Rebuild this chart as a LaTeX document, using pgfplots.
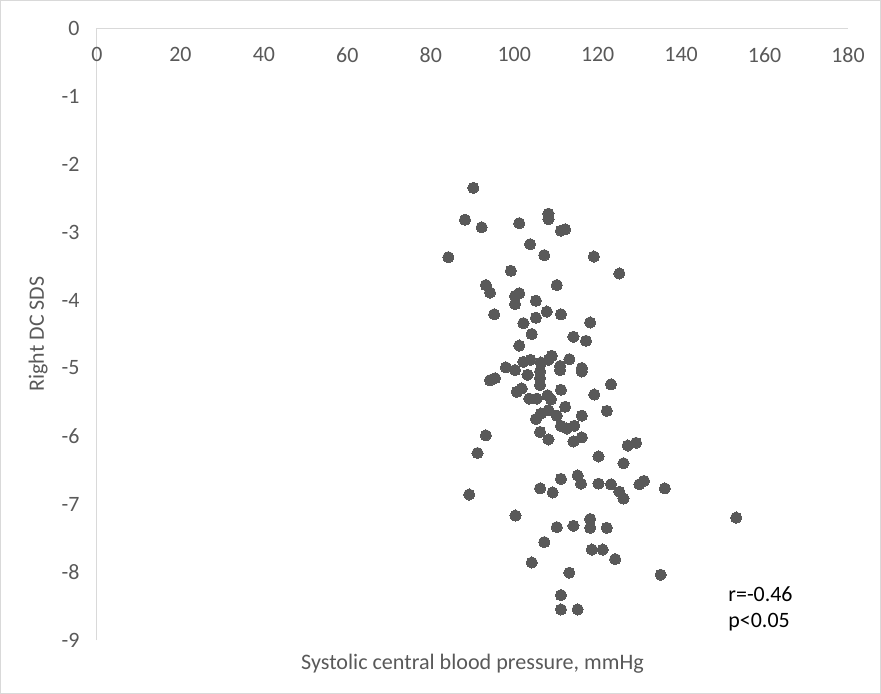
\documentclass[border=0pt]{standalone}
\usepackage{fontspec}
\setmainfont{Carlito}
\usepackage{pgfplots}
\pgfplotsset{compat=1.18}
\definecolor{pt}{HTML}{595959}
\definecolor{ax}{HTML}{D9D9D9}
\definecolor{tx}{HTML}{595959}
\begin{document}
\begin{tikzpicture}
\path[use as bounding box] (-97bp,-54bp) rectangle (784bp,640bp);
\draw[ax, line width=1bp] (-96.5bp,-53.5bp) rectangle (783.5bp,639.5bp);
\begin{axis}[at={(0,0)}, anchor=south west, scale only axis,
  width=751bp, height=612bp,
  xmin=0, xmax=180, ymin=-9, ymax=0,
  axis lines=middle, axis line style={ax, line width=1bp, -},
  xtick={0,20,...,180}, ytick={-9,-8,...,0},
  major tick length=0pt,
  hide obscured x ticks=false, hide obscured y ticks=false,
  tick label style={font=\fontsize{22}{26}\selectfont, text=tx},
  /pgf/number format/assume math mode=true,
  xticklabel style={anchor=north, yshift=-16bp},
  yticklabel style={anchor=east, xshift=-14bp},
  clip=false,
]
\addplot[only marks, color=pt, mark=*, mark size=5.6bp, mark options={fill=pt, draw=pt, line width=0pt}] coordinates {
(84.2,-3.37) (88.2,-2.82) (90.2,-2.35) (92.2,-2.93) (101.2,-2.87)
(108.2,-2.73) (108.2,-2.81) (111.2,-2.98) (112.2,-2.96) (103.8,-3.18)
(107.2,-3.34) (119.1,-3.36) (125.2,-3.61) (99.2,-3.57) (93.2,-3.78)
(94.2,-3.89) (110.2,-3.78) (101.2,-3.90) (100.2,-3.94) (100.2,-4.06)
(105.2,-4.01) (95.2,-4.21) (107.8,-4.17) (111.2,-4.21) (102.2,-4.34)
(105.2,-4.26) (118.2,-4.33) (104.2,-4.50) (114.2,-4.54) (117.2,-4.60)
(101.2,-4.67) (109.0,-4.82) (108.2,-4.88) (113.2,-4.87) (102.2,-4.91)
(103.9,-4.88) (106.4,-4.92) (98.0,-4.99) (100.2,-5.03) (103.2,-5.10)
(111.0,-4.97) (111.0,-5.03) (116.2,-5.00) (116.2,-5.05) (106.2,-5.05)
(106.2,-5.15) (106.2,-5.25) (94.2,-5.18) (95.4,-5.15) (123.2,-5.24)
(100.6,-5.35) (101.8,-5.30) (111.2,-5.32) (119.2,-5.39) (103.6,-5.45)
(105.4,-5.45) (108.0,-5.40) (108.8,-5.46) (112.2,-5.57) (122.2,-5.63)
(108.2,-5.62) (106.4,-5.67) (105.2,-5.75) (110.2,-5.70) (116.2,-5.70)
(111.2,-5.85) (112.6,-5.89) (114.4,-5.85) (106.2,-5.94) (93.2,-5.99)
(108.2,-6.05) (114.2,-6.08) (116.2,-6.02) (129.2,-6.10) (127.2,-6.14)
(91.2,-6.25) (120.2,-6.30) (126.2,-6.40) (115.2,-6.58) (111.2,-6.63)
(116.0,-6.70) (120.2,-6.70) (123.2,-6.71) (131.1,-6.66) (130.0,-6.71)
(106.2,-6.77) (109.2,-6.83) (125.2,-6.82) (126.2,-6.92) (89.2,-6.86)
(136.1,-6.77) (153.2,-7.20) (100.3,-7.17) (110.2,-7.34) (114.2,-7.32)
(118.2,-7.22) (118.2,-7.35) (122.2,-7.35) (107.2,-7.56) (118.6,-7.67)
(121.2,-7.67) (124.2,-7.81) (104.2,-7.86) (113.2,-8.01) (135.1,-8.04)
(111.2,-8.34) (111.2,-8.55) (115.2,-8.55)
};
\node[anchor=base west, inner sep=0pt, font=\fontsize{22}{26}\selectfont] at (axis cs:151.3,-8.43) {r=-0.46};
\node[anchor=base west, inner sep=0pt, font=\fontsize{22}{26}\selectfont] at (axis cs:151.3,-8.81) {p<0.05};
\node[anchor=base, inner sep=0pt, text=tx, font=\fontsize{22.2}{26}\selectfont] at (axis description cs:0.5,-0.0474) {Systolic central blood pressure, mmHg};
\node[anchor=base, rotate=90, inner sep=0pt, text=tx, font=\fontsize{22}{26}\selectfont] at (axis description cs:-0.0706,0.5) {Right DC SDS};
\end{axis}
\end{tikzpicture}
\end{document}
